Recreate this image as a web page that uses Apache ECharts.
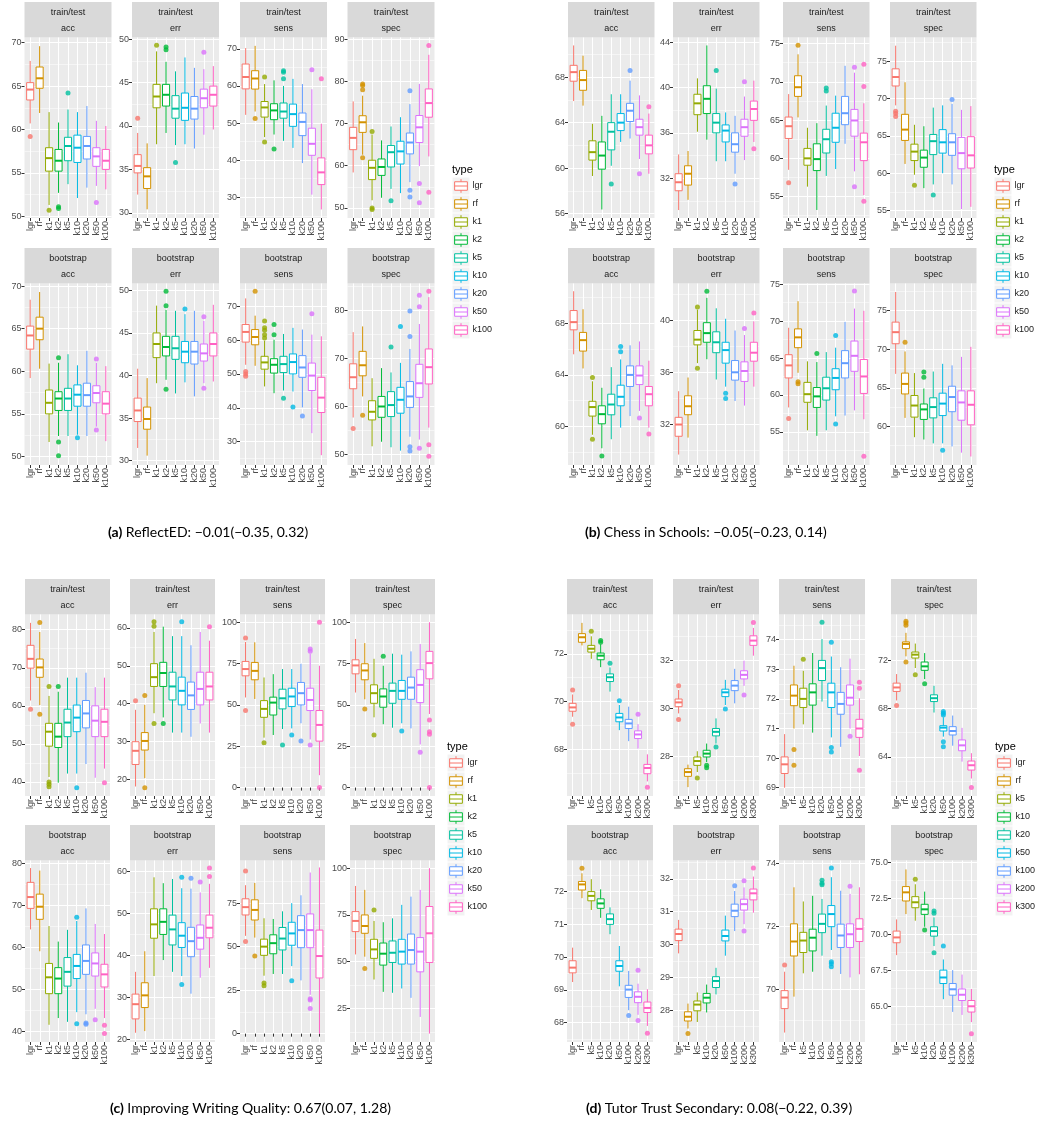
<!DOCTYPE html>
<html><head><meta charset="utf-8">
<script src="https://cdn.jsdelivr.net/npm/echarts@6/dist/echarts.min.js"></script>
<style>html,body{margin:0;padding:0;background:#fff}#c{width:1044px;height:1124px}</style>
</head><body><div id="c"></div>
<script>
// ---------- categories ----------
const typesK = ['lgr','rf','k1','k2','k5','k10','k20','k50','k100'];
const typesTutor = ['lgr','rf','k5','k10','k20','k50','k100','k200','k300'];
const metrics = ['acc','err','sens','spec'];
const designs = ['train/test','bootstrap'];
const palette = ['#F8766D','#D39200','#93AA00','#00BA38','#00C19F','#00B9E3','#619CFF','#DB72FB','#FF61C3'];
const captions = [
  ['(a)', ' ReflectED: \u22120.01(\u22120.35, 0.32)'],
  ['(b)', ' Chess in Schools: \u22120.05(\u22120.23, 0.14)'],
  ['(c)', ' Improving Writing Quality: 0.67(0.07, 1.28)'],
  ['(d)', ' Tutor Trust Secondary: 0.08(\u22120.22, 0.39)']
];

// ---------- values: each row = [lower whisker, Q1, median, Q3, upper whisker, ...outliers] ----------
// (a) ReflectED
const reflectTT_acc = [[60.7,63.4,64.6,65.4,67.9,59.2],[61.9,64.75,65.9,67.2,69.6],[51.3,55.2,56.7,57.9,62.0,50.7],[52.7,55.2,56.4,57.7,60.8,51.1,50.9],[53.7,56.4,58.1,59.1,62.3,64.2],[52.1,56.2,57.9,59.35,62.0],[53.3,56.6,58.1,59.2,62.7],[53.5,55.75,56.9,57.9,61.0,51.6],[53.1,55.4,56.4,57.7,60.4]];
const reflectTT_err = [[32.1,34.6,35.4,36.7,39.2,40.9],[30.4,32.8,34.2,35.2,38.0],[37.9,42.1,43.4,44.8,48.6,49.3],[39.2,42.3,43.6,44.8,47.4,49.1,48.8],[37.8,40.9,42.0,43.5,46.3,35.8],[37.9,40.65,42.1,43.8,47.9],[37.4,40.8,42.0,43.4,46.7],[39.0,42.1,43.2,44.25,46.55,48.5],[39.6,42.3,43.6,44.6,46.9]];
const reflectTT_sens = [[52.2,59.2,62.4,65.9,70.2],[53.1,59.15,62.0,64.1,70.8,51.2],[46.2,51.6,54.2,55.8,60.5,62.4,44.9],[46.9,50.9,53.4,55.2,61.5,43.0],[45.2,51.3,53.1,55.4,60.0,64.1,63.7,61.9],[43.3,49.1,52.4,55.1,61.9],[39.2,46.6,50.3,52.7,60.5],[30.7,41.3,44.4,48.6,59.1,64.35],[26.7,33.4,36.7,40.6,49.8,61.9]];
const reflectTT_spec = [[58.4,63.8,66.6,69.1,75.25],[62.6,67.9,70.3,71.85,76.6,79.4,79.0,78.0,61.9],[51.8,56.7,59.5,61.3,67.4,68.1,50.0,49.6],[52.4,57.7,59.7,61.6,66.0],[54.5,59.7,63.2,64.8,69.3,51.7],[53.5,60.4,63.4,65.8,71.5],[56.1,62.8,65.5,67.75,74.6,77.8,54.2,52.6],[59.9,65.5,69.1,71.9,79.4,55.8,51.2],[62.2,71.5,74.85,78.2,86.3,88.5,53.7]];
const reflectBS_acc = [[59.2,62.6,64.2,65.3,68.4],[60.3,63.7,65.0,66.35,69.3],[51.7,55.0,56.3,57.8,60.9],[52.4,55.4,56.8,57.6,61.0,61.6,51.7,50.1],[52.4,55.4,56.8,58.0,62.0],[52.55,55.9,57.25,58.4,60.7,52.2],[52.4,55.9,57.2,58.6,62.4],[53.5,56.3,57.45,58.3,61.0,61.45,53.1],[51.8,55.0,56.2,57.6,60.6]];
const reflectBS_err = [[31.5,34.6,35.9,37.35,40.8],[30.6,33.7,34.9,36.3,39.7],[39.1,42.1,43.7,45.0,48.2],[39.5,42.3,43.35,44.6,47.7,49.9,48.2,38.4],[37.9,41.9,43.2,44.6,47.6],[39.2,41.5,42.8,44.0,47.2,47.8],[37.55,41.35,42.8,44.0,47.6],[39.1,41.7,42.6,43.7,46.4,46.9,38.5],[39.3,42.3,43.7,45.0,48.3]];
const reflectBS_sens = [[52.7,59.4,62.4,64.6,72.3,50.7,49.95,49.3],[52.4,58.6,60.9,63.1,67.2,74.4],[46.3,51.4,53.4,55.2,59.8,65.6,63.6,62.9,61.6,60.6],[44.3,50.25,52.7,54.5,60.1,64.6,61.6],[45.1,50.4,52.9,55.2,61.8,42.8],[44.8,50.0,53.5,55.9,63.6,40.2],[40.1,49.0,51.9,55.4,63.1,37.6],[32.5,45.1,49.5,53.2,61.6,67.8],[26.0,38.6,43.0,49.0,61.1]];
const reflectBS_spec = [[57.7,63.7,66.1,68.9,75.5,55.4],[62.1,66.4,68.6,71.5,76.7,58.2],[51.7,57.2,58.9,61.2,65.9],[52.65,57.75,60.0,62.1,68.0],[51.5,57.9,60.3,63.1,67.1,72.4],[50.8,58.6,61.4,64.0,69.1,76.7],[53.7,59.8,62.1,65.2,72.0,79.9,74.6,51.6,50.7],[53.1,61.9,64.85,68.8,77.2,83.2,80.8,51.3],[55.6,64.7,68.2,72.0,82.8,84.05,52.0,49.6]];
// (b) Chess in Schools
const chessTT_acc = [[65.9,67.65,68.45,69.05,70.8],[65.5,66.85,67.75,68.6,69.9],[59.3,60.7,61.4,62.4,63.9],[56.35,59.9,61.1,62.3,64.6],[60.2,61.6,63.2,64.0,66.5,58.6],[62.3,63.3,64.0,64.8,66.5],[62.6,64.1,65.05,65.7,67.7,68.6],[60.8,62.9,63.6,64.3,66.4,59.5],[59.5,61.25,62.0,62.9,64.8,65.4]];
const chessTT_err = [[29.2,30.9,31.65,32.4,34.1],[30.1,31.4,32.4,33.1,34.4],[36.1,37.6,38.6,39.4,40.8],[35.4,37.7,39.0,40.15,43.7],[33.5,36.0,36.9,37.7,39.9,41.5],[33.5,35.2,36.2,36.7,37.8],[32.4,34.3,35.0,36.0,37.5,31.5],[33.6,35.7,36.5,37.2,39.2,40.5],[35.2,37.1,38.1,38.8,40.6,34.6]];
const chessTT_sens = [[58.5,62.6,64.2,65.4,68.4,56.8],[65.35,68.1,69.3,70.8,73.6,74.8],[56.3,59.1,60.0,61.3,64.0],[53.25,58.4,59.9,61.9,64.6],[57.7,60.7,62.5,63.8,66.9,69.2,68.8],[58.6,62.1,64.0,65.9,68.2],[61.9,64.4,65.9,68.1,72.1],[58.3,62.9,64.95,66.4,71.2,71.9,56.3],[55.2,59.7,62.1,63.3,67.2,72.3,69.4,54.4]];
const chessTT_spec = [[69.1,71.7,72.9,74.0,77.1,68.3,68.0,67.6],[61.25,64.4,65.85,67.9,72.2],[59.8,61.7,62.9,63.9,66.5,58.4],[58.0,60.8,62.1,63.1,66.3],[58.5,62.5,64.3,65.2,68.8,57.1],[60.0,62.7,64.15,65.85,69.1],[58.5,62.4,64.15,65.3,69.3,69.9],[55.2,60.6,62.7,64.8,68.5],[55.5,60.7,62.4,64.9,69.0]];
const chessBS_acc = [[65.6,67.5,68.1,69.0,70.5],[64.5,65.85,66.7,67.3,69.1],[59.35,60.8,61.5,61.95,63.5,63.8,59.0],[58.3,60.2,60.95,61.6,63.0,57.7],[59.0,60.9,61.7,62.5,64.6],[59.9,61.6,62.3,63.2,65.2,66.2,65.8],[60.8,63.1,64.0,64.7,66.3],[61.2,63.25,63.95,64.7,66.6,60.65],[59.9,61.6,62.5,63.1,65.1,59.4]];
const chessBS_err = [[29.7,31.1,32.0,32.55,34.55],[31.0,32.75,33.4,34.2,35.6],[36.7,38.1,38.5,39.2,40.8,41.0,36.3],[37.0,38.3,39.0,39.8,41.7,42.2],[35.45,37.5,38.3,39.1,40.9],[34.9,36.7,37.7,38.3,40.1,34.4,34.0],[33.8,35.4,36.0,36.9,39.2],[33.45,35.3,36.1,36.8,38.85,39.35],[34.9,36.85,37.5,38.3,39.9,40.55]];
const chessBS_sens = [[58.3,62.3,64.0,65.45,69.1,56.8],[63.0,66.4,67.8,68.95,72.7,61.8,61.5],[55.2,59.0,60.1,61.7,64.55],[54.45,58.3,59.8,61.0,64.45,65.6],[55.2,59.3,60.9,62.4,65.8],[57.1,60.7,62.3,63.55,66.4,68.05,56.05],[57.2,62.3,64.3,66.0,69.9],[57.9,63.2,65.3,67.3,71.7,74.1],[56.7,60.2,62.5,64.8,71.4,51.7]];
const chessBS_spec = [[66.8,70.7,72.2,73.5,77.4],[61.1,64.2,65.5,66.9,69.7,70.9],[58.6,61.2,62.7,64.0,66.9],[58.3,60.9,62.2,62.9,64.9,67.05,66.35],[57.8,61.1,62.5,63.7,67.1],[57.8,61.4,62.95,64.3,68.1,56.9],[57.4,61.9,63.8,65.2,67.9],[56.6,60.8,63.1,64.6,69.0],[56.1,60.2,62.8,64.6,70.3]];
// (c) Improving Writing Quality
const writingTT_acc = [[61.4,69.9,72.35,75.9,81.8,59.1],[60.2,67.5,70.1,72.3,79.4,81.9,57.8],[41.3,49.4,53.2,55.4,62.6,65.05,40.0,39.4,38.7],[39.8,49.05,51.9,55.4,63.7,65.05],[42.2,51.9,55.6,59.1,67.4],[42.2,53.2,56.9,60.2,67.4,38.5],[44.7,54.2,58.0,61.4,68.7],[41.1,51.9,56.1,60.0,64.9],[43.5,51.9,55.8,59.1,67.4,39.8]];
const writingTT_err = [[18.2,24.0,27.6,30.0,38.4,40.8],[20.4,27.8,30.2,32.4,39.7,42.2,17.9],[37.5,44.55,47.0,50.55,58.9,61.6,60.4,34.8],[36.4,44.55,48.1,50.9,60.3,34.8],[32.4,41.0,44.55,48.3,57.8],[32.4,39.7,43.4,47.0,57.8,61.6],[31.3,38.5,42.2,45.7,55.4],[34.8,39.7,43.9,48.3,58.9],[32.4,41.0,44.55,48.3,56.6,60.3]];
const writingTT_sens = [[54.5,67.6,71.7,76.3,88.1,90.5,46.6],[53.6,65.2,70.6,75.7,87.9],[30.2,42.5,47.6,52.6,66.6,27.1],[31.8,43.9,51.4,54.7,68.6],[35.4,47.6,54.0,59.5,71.7,25.7],[35.8,49.0,55.1,60.1,71.7,31.8],[38.9,50.0,57.1,63.6,74.9,28.1],[29.1,46.6,53.0,60.1,81.0,83.8,82.4,25.7],[7.5,28.1,37.9,46.6,73.7,100,0]];
const writingTT_spec = [[57.5,68.8,73.9,77.3,89.9],[53.4,65.2,70.85,74.9,87.4,47.6],[42.5,51.0,57.1,62.15,77.9,31.8],[38.3,48.6,55.1,59.7,73.7,79.4],[36.2,51.0,58.5,63.2,81.0],[38.9,53.4,58.5,64.8,80.4,34.2],[35.8,53.4,60.5,66.8,82.4],[26.1,51.4,62.1,71.3,86.8,21.3],[44.5,65.8,75.3,82.4,100,40.9,33.7,32.2,0]];
const writingBS_acc = [[64.2,69.2,71.9,75.4,78.8],[59.0,66.6,69.6,72.6,78.2],[41.5,48.9,52.8,56.1,65.0],[43.1,48.9,52.5,55.1,61.3],[42.2,50.7,54.1,57.5,64.1],[44.5,52.5,55.5,58.25,66.2,67.1,41.75],[44.0,53.5,56.7,60.5,69.2,41.9,41.6],[45.3,53.1,56.1,58.6,65.5,42.7],[43.1,50.5,53.5,55.9,63.1,41.4,39.4]];
const writingBS_err = [[21.6,24.9,28.4,30.8,36.1],[22.0,27.6,30.5,33.5,41.0],[35.1,44.1,47.4,51.1,58.6],[38.9,45.0,48.0,51.1,57.2],[36.1,42.5,46.2,49.6,58.2],[35.1,41.9,44.7,47.8,56.0,58.6,33.1],[30.9,39.7,43.4,46.7,55.9,58.4],[34.7,41.5,44.2,47.25,55.0,57.5],[37.05,44.2,46.6,49.6,57.05,60.8,58.8]];
const writingBS_sens = [[56.2,68.2,72.7,77.5,85.3,93.4,52.9],[55.2,65.3,71.1,76.9,86.6,44.6],[33.3,45.0,50.0,54.3,66.3,29.1,27.5],[34.3,45.9,52.0,56.8,65.9],[34.3,48.1,54.65,61.0,70.3],[38.8,50.8,57.6,64.0,75.0,30.4],[30.6,49.4,59.5,67.8,79.5],[22.3,49.4,59.5,68.8,92.6,20.0,19.4,14.5],[0,32.0,44.6,59.5,95.5]];
const writingBS_spec = [[53.9,66.1,71.8,76.8,90.5],[52.7,65.2,69.1,75.0,88.4,46.4],[40.5,51.8,56.6,62.0,71.8,77.7],[33.9,48.2,54.3,60.0,71.1],[33.4,49.6,54.8,61.1,73.2],[35.7,48.75,55.4,62.0,80.4],[30.7,48.75,56.25,64.8,84.8],[20.5,44.6,55.4,62.9,88.4],[11.6,49.6,65.2,79.5,100]];
// (d) Tutor Trust Secondary
const tutorTT_acc = [[69.37,69.6,69.76,69.93,70.3,70.49,69.06],[72.35,72.48,72.69,72.84,73.29],[71.79,72.07,72.21,72.35,72.73,72.94],[71.44,71.75,71.92,72.03,72.4,72.55,72.48],[70.42,70.84,71.02,71.16,71.43,71.6],[68.81,69.16,69.34,69.51,69.86,70.04],[68.35,68.88,69.09,69.26,69.79],[68.04,68.46,68.63,68.78,69.06,69.47],[66.67,66.99,67.23,67.38,67.8,66.43]];
const tutorTT_err = [[29.79,30.07,30.25,30.39,30.77,30.94,29.54],[26.71,27.16,27.34,27.48,27.65],[27.34,27.62,27.8,27.97,28.21,27.09],[27.76,27.97,28.11,28.25,28.53,27.62,27.52],[28.53,28.85,29.02,29.16,29.58,28.39],[30.14,30.49,30.67,30.8,31.19,29.97],[30.21,30.74,30.95,31.16,31.65],[30.94,31.23,31.4,31.57,31.99,30.56],[32.2,32.63,32.83,33.03,33.36,33.59]];
const tutorTT_sens = [[69.0,69.48,69.79,70.04,70.81],[71.0,71.77,72.11,72.47,73.12,70.29,69.76],[71.14,71.71,72.0,72.36,72.95,73.34],[70.86,71.79,72.22,72.51,73.55],[71.91,72.62,73.04,73.3,74.02,74.59],[70.7,71.71,72.22,72.53,73.43,73.91,70.36,70.21],[70.38,71.48,71.83,72.22,73.07],[71.0,71.79,72.04,72.47,73.36,70.74],[70.07,70.7,71.0,71.31,72.02,72.56,72.36,69.59]];
const tutorTT_spec = [[68.67,69.42,69.75,70.11,70.86,68.25],[72.33,72.97,73.36,73.53,74.28,75.25,75.1,74.9,71.86],[71.36,72.19,72.47,72.69,73.39,70.8],[70.44,71.17,71.5,71.86,72.6,70.06],[67.67,68.58,68.86,69.14,69.89],[65.67,66.14,66.42,66.58,67.28,67.75,67.61,67.47,65.25,64.83],[64.92,65.81,66.14,66.5,67.42],[63.6,64.5,64.95,65.4,66.4],[62.2,62.9,63.3,63.65,64.3,61.45]];
const tutorBS_acc = [[69.24,69.52,69.68,69.89,70.29],[71.8,72.05,72.22,72.31,72.56,72.71],[71.44,71.72,71.87,72.0,72.38],[71.2,71.49,71.64,71.78,72.07],[70.7,71.0,71.16,71.32,71.52],[69.11,69.57,69.73,69.89,70.34],[68.38,68.77,69.01,69.14,69.58,68.22],[68.24,68.61,68.79,68.94,69.19,69.6,68.07],[67.9,68.31,68.45,68.63,69.02,67.68]];
const tutorBS_err = [[29.73,30.12,30.32,30.47,30.75],[27.44,27.67,27.8,27.95,28.2,27.29],[27.64,27.98,28.17,28.28,28.54],[27.93,28.22,28.38,28.51,28.78],[28.48,28.69,28.89,29.02,29.29],[29.66,30.11,30.26,30.44,30.88],[30.41,30.85,31.03,31.23,31.63,31.79],[30.62,31.05,31.23,31.38,31.74,31.94,30.41],[30.97,31.36,31.56,31.69,32.07,32.33]];
const tutorBS_sens = [[68.62,69.38,69.73,69.95,70.55,70.76],[69.76,71.05,71.51,72.07,73.23],[70.5,71.16,71.54,71.8,72.78],[70.55,71.21,71.63,71.9,72.96],[71.06,71.79,72.07,72.38,72.86,73.45,73.36,73.31],[71.24,71.98,72.38,72.65,73.55,73.84,70.87,70.8,70.71],[70.48,71.32,71.7,72.06,73.12],[70.37,71.32,71.74,72.07,73.02,73.26],[70.47,71.51,71.91,72.23,73.23]];
const tutorBS_spec = [[68.55,69.41,69.78,70.22,71.03],[71.4,72.31,72.91,73.31,74.5],[70.94,71.84,72.22,72.61,73.47,73.82],[70.52,71.38,71.73,72.08,72.96,70.29],[69.18,69.87,70.22,70.52,71.17,71.61,71.45,68.71],[65.49,66.58,67.0,67.51,68.25,69.18],[64.61,65.77,66.18,66.58,67.51],[64.4,65.4,65.8,66.2,67.2],[63.9,64.6,65.0,65.4,66.2,63.1]];

// ---------- y tick labels per facet (train/test acc, err, sens, spec, bootstrap acc, err, sens, spec) ----------
const reflectTicks = [['50','55','60','65','70'],['30','35','40','45','50'],['30','40','50','60','70'],['50','60','70','80','90'],['50','55','60','65','70'],['30','35','40','45','50'],['30','40','50','60','70'],['50','60','70','80']];
const chessTicks = [['56','60','64','68'],['32','36','40','44'],['55','60','65','70','75'],['55','60','65','70','75'],['60','64','68'],['32','36','40'],['55','60','65','70','75'],['60','65','70','75']];
const writingTicks = [['40','50','60','70','80'],['20','30','40','50','60'],['0','25','50','75','100'],['0','25','50','75','100'],['40','50','60','70','80'],['20','30','40','50','60'],['0','25','50','75'],['25','50','75','100']];
const tutorTicks = [['68','70','72'],['28','30','32'],['69','70','71','72','73','74'],['64','68','72'],['68','69','70','71','72'],['28','29','30','31','32'],['70','72','74'],['65.0','67.5','70.0','72.5','75.0']];
// y axis limits [min, max, step]
const reflectLimits = [[49.8,70.6,5],[29.4,50.2,5],[24.4,73.05,10],[47.6,90.4,10],[49.0,70.3,5],[29.5,50.8,5],[23.1,76.7,10],[47.8,85.65,10]];
const chessLimits = [[55.6,71.5,4],[28.5,44.4,4],[52.2,75.8,5],[54.0,78.2,5],[57.0,71.1,4],[28.9,42.8,4],[50.5,75.1,5],[55.0,78.5,5]];
const writingLimits = [[36.3,84.0,10],[15.7,63.5,10],[-5.1,104.7,25],[-5.1,104.7,25],[37.4,80.6,10],[19.4,62.6,10],[-4.8,99.5,25],[7.1,104.1,25]];
const tutorLimits = [[66.06,73.64,2],[26.34,33.92,2],[68.72,74.85,1],[60.75,75.8,4],[67.41,72.95,1],[27.03,32.56,1],[68.32,74.08,2],[62.52,75.12,2.5]];

// ---------- layout ----------
const FONT = '"Liberation Sans", Arial, sans-serif';
const STRIP_H = 35.5;
const panels = [
  {types: typesK, limits: reflectLimits, ticks: reflectTicks,
   data: [reflectTT_acc, reflectTT_err, reflectTT_sens, reflectTT_spec, reflectBS_acc, reflectBS_err, reflectBS_sens, reflectBS_spec],
   colLeft: [24.5, 132, 240, 347.5], colW: 87, stripTop: [2, 248], plotBottom: [218, 465],
   legend: {x: 452, y: 170}, caption: {x: 108, y: 532}},
  {types: typesK, limits: chessLimits, ticks: chessTicks,
   data: [chessTT_acc, chessTT_err, chessTT_sens, chessTT_spec, chessBS_acc, chessBS_err, chessBS_sens, chessBS_spec],
   colLeft: [568, 673, 783, 890], colW: 86.5, stripTop: [2, 248], plotBottom: [218, 465],
   legend: {x: 994, y: 170}, caption: {x: 585, y: 532}},
  {types: typesK, limits: writingLimits, ticks: writingTicks,
   data: [writingTT_acc, writingTT_err, writingTT_sens, writingTT_spec, writingBS_acc, writingBS_err, writingBS_sens, writingBS_spec],
   colLeft: [25, 130, 240, 350], colW: 85, stripTop: [579, 825], plotBottom: [796, 1042],
   legend: {x: 447, y: 747}, caption: {x: 110, y: 1108}},
  {types: typesTutor, limits: tutorLimits, ticks: tutorTicks,
   data: [tutorTT_acc, tutorTT_err, tutorTT_sens, tutorTT_spec, tutorBS_acc, tutorBS_err, tutorBS_sens, tutorBS_spec],
   colLeft: [567, 673, 779, 891], colW: 86, stripTop: [579, 825], plotBottom: [796, 1042],
   legend: {x: 995, y: 747}, caption: {x: 586, y: 1108}}
];

function renderBox(params, api) {
  const xi = api.value(0);
  const lo = api.coord([xi, api.value(1)]);
  const q1 = api.coord([xi, api.value(2)]);
  const md = api.coord([xi, api.value(3)]);
  const q3 = api.coord([xi, api.value(4)]);
  const hi = api.coord([xi, api.value(5)]);
  const w = api.size([0.75, 0])[0];
  const color = palette[xi - 1];
  return {type: 'group', children: [
    {type: 'line', shape: {x1: lo[0], y1: lo[1], x2: hi[0], y2: hi[1]}, style: {stroke: color, lineWidth: 1}},
    {type: 'rect', shape: {x: q3[0] - w / 2, y: q3[1], width: w, height: q1[1] - q3[1]}, style: {fill: '#fff', stroke: color, lineWidth: 1}},
    {type: 'line', shape: {x1: md[0] - w / 2, y1: md[1], x2: md[0] + w / 2, y2: md[1]}, style: {stroke: color, lineWidth: 2}}
  ]};
}

const grids = [], xAxes = [], yAxes = [], series = [], graphics = [];
const idx = [1, 2, 3, 4, 5, 6, 7, 8, 9];

panels.forEach((p) => {
  for (let r = 0; r < 2; r++) for (let c = 0; c < 4; c++) {
    const k = r * 4 + c;
    const g = grids.length;
    const left = p.colLeft[c], w = p.colW;
    const st = p.stripTop[r], pt = st + STRIP_H, pb = p.plotBottom[r];
    grids.push({left: left, top: pt, width: w, height: pb - pt, show: true,
      backgroundColor: '#EBEBEB', borderWidth: 0, containLabel: false});
    const names = p.types;
    xAxes.push({type: 'value', gridIndex: g, min: 0.4, max: 9.6, minInterval: 1, maxInterval: 1,
      axisLine: {show: false},
      axisTick: {show: true, length: 3, customValues: idx, lineStyle: {color: '#333333', width: 1}},
      axisLabel: {customValues: idx, rotate: 90, margin: 3, fontSize: 9, color: '#4D4D4D', fontFamily: FONT,
        formatter: (v) => names[Math.round(v) - 1] || ''},
      splitLine: {show: true, lineStyle: {color: '#FFFFFF', width: 1}}});
    const lim = p.limits[k];
    const tl = p.ticks[k];
    const tv = tl.map(Number);
    yAxes.push({type: 'value', gridIndex: g, min: lim[0], max: lim[1], minInterval: lim[2], maxInterval: lim[2],
      axisLine: {show: false},
      axisTick: {show: true, length: 3, customValues: tv, lineStyle: {color: '#333333', width: 1}},
      axisLabel: {customValues: tv, margin: 3, fontSize: 9, color: '#4D4D4D', fontFamily: FONT,
        formatter: (v) => { const i = tv.findIndex(t => Math.abs(t - v) < 1e-6); return i >= 0 ? tl[i] : ''; }},
      splitLine: {show: true, lineStyle: {color: '#FFFFFF', width: 1}},
      minorTick: {show: false, splitNumber: 2},
      minorSplitLine: {show: true, lineStyle: {color: '#FFFFFF', width: 0.5}}});
    const rows = p.data[k];
    const boxes = rows.map((row, i) => [i + 1, row[0], row[1], row[2], row[3], row[4]]);
    const outs = [];
    rows.forEach((row, i) => row.slice(5).forEach(v => outs.push({value: [i + 1, v], itemStyle: {color: palette[i]}})));
    series.push({type: 'custom', xAxisIndex: g, yAxisIndex: g, renderItem: renderBox, data: boxes,
      encode: {x: 0, y: [1, 2, 3, 4, 5]}, silent: true, animation: false, z: 2});
    series.push({type: 'scatter', xAxisIndex: g, yAxisIndex: g, data: outs, symbol: 'circle', symbolSize: 5,
      silent: true, animation: false, z: 3});
    // strip
    graphics.push({type: 'rect', silent: true, shape: {x: left, y: st, width: w, height: STRIP_H}, style: {fill: '#D9D9D9'}});
    graphics.push({type: 'text', silent: true, style: {x: left + w / 2, y: st + 10.5, text: designs[r], align: 'center', verticalAlign: 'middle',
      fontSize: 9, fontFamily: FONT, fill: '#1A1A1A'}});
    graphics.push({type: 'text', silent: true, style: {x: left + w / 2, y: st + 27, text: metrics[c], align: 'center', verticalAlign: 'middle',
      fontSize: 9, fontFamily: FONT, fill: '#1A1A1A'}});
  }
  // legend
  const L = p.legend;
  graphics.push({type: 'text', silent: true, style: {x: L.x, y: L.y, text: 'type', align: 'left', verticalAlign: 'middle',
    fontSize: 11, fontFamily: FONT, fill: '#000'}});
  p.types.forEach((t, i) => {
    const cy = L.y + 16 + 18 * i, kx = L.x + 0.5, ks = 17;
    const top = cy - ks / 2, col = palette[i];
    graphics.push({type: 'rect', silent: true, shape: {x: kx, y: top, width: ks, height: ks}, style: {fill: '#F2F2F2'}});
    graphics.push({type: 'line', silent: true, shape: {x1: kx + ks / 2, y1: top + ks * 0.1, x2: kx + ks / 2, y2: top + ks * 0.9}, style: {stroke: col, lineWidth: 1}});
    graphics.push({type: 'rect', silent: true, shape: {x: kx + ks * 0.125, y: top + ks * 0.25, width: ks * 0.75, height: ks * 0.5}, style: {fill: '#fff', stroke: col, lineWidth: 1}});
    graphics.push({type: 'line', silent: true, shape: {x1: kx + ks * 0.125, y1: cy, x2: kx + ks * 0.875, y2: cy}, style: {stroke: col, lineWidth: 1}});
    graphics.push({type: 'text', silent: true, style: {x: kx + ks + 3, y: cy, text: t, align: 'left', verticalAlign: 'middle',
      fontSize: 9, fontFamily: FONT, fill: '#1A1A1A'}});
  });
});

captions.forEach((cap, i) => {
  const p = panels[i];
  graphics.push({type: 'text', silent: true, style: {x: p.caption.x, y: p.caption.y, text: '{b|' + cap[0] + '}{n|' + cap[1] + '}',
    align: 'left', verticalAlign: 'middle',
    rich: {b: {fontSize: 14, fontWeight: 'bold', fontFamily: 'Lato', fill: '#000'}, n: {fontSize: 14, fontFamily: 'Lato', fill: '#000'}}}});
});

const chart = echarts.init(document.getElementById('c'), null, {renderer: 'canvas'});
chart.setOption({
  animation: false,
  backgroundColor: '#FFFFFF',
  grid: grids, xAxis: xAxes, yAxis: yAxes, series: series,
  graphic: graphics
});
</script></body></html>
